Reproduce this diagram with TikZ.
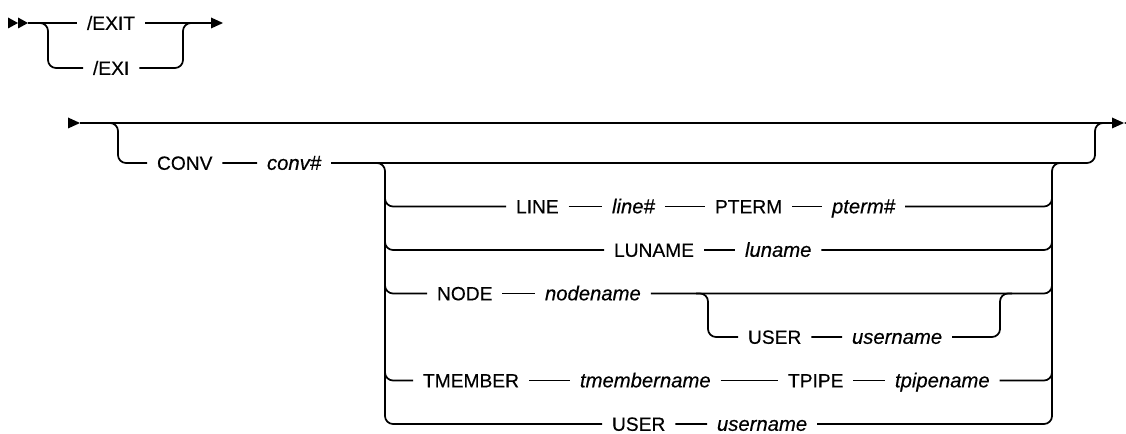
\documentclass[tikz,border=0pt]{standalone}
\usepackage{fontspec}
\setmainfont{Liberation Sans}
\newfontfamily\railfont{Liberation Sans}[FakeBold=0.35]
\usetikzlibrary{calc}

\tikzset{
  rail/.style={line width=1.3pt, rounded corners=6pt},
  kw/.style={inner sep=0pt, outer xsep=7.5pt, text height=10.2pt, text depth=0pt, anchor=west, font=\railfont\fontsize{14.4}{17}\selectfont},
  var/.style={kw, font=\railfont\fontsize{15.2}{18}\selectfont\itshape},
}

\begin{document}
\begin{tikzpicture}[x=0.75pt,y=-0.75pt]
        \useasboundingbox (0,0) rectangle (1126,434);
        \coordinate (a0) at (28,23);
        \coordinate (a1) at (212,23);
        \coordinate (aL) at (48,23);
        \coordinate (aR) at (183,23);
        \node[kw] (exit) at (77,23) {/EXIT};
        \node[kw] (exi) at (83,68) {/EXI};
        \fill (18,23) -- (8,17.5) -- (8,28.5) -- cycle;
        \fill (28,23) -- (18,17.5) -- (18,28.5) -- cycle;
        \fill (223,23) -- (211,17.5) -- (211,28.5) -- cycle;
        \draw[rail] (a0) -- (exit) -- (a1);
        \draw[rail] ([xshift=-7.5pt]aL) -| (aL |- exi) -- (exi) -| (aR) -- ([xshift=7.5pt]aR);

        \coordinate (m0) at (80,123);
        \coordinate (m1) at (1112,123);
        \coordinate (L0) at (118,123);
        \coordinate (R0) at (1095,123);
        \coordinate (L1) at (385,163);
        \coordinate (R1) at (1052,163);
        \coordinate (L2) at (708,293.5);
        \coordinate (R2) at (1000,293.5);
        \node[kw] (conv) at (147,163) {CONV};
        \node[var] (convv) at (257,163) {conv\#\hspace{10pt}};
        \node[kw] (kline) at (506,206.5) {LINE};
        \node[var] (linev) at (602,206.5) {line\#\hspace{10pt}};
        \node[kw] (pterm) at (705,206.5) {PTERM};
        \node[var] (ptermv) at (822,206.5) {pterm\#\hspace{10pt}};
        \node[kw] (luname) at (604,250) {LUNAME};
        \node[var] (lunamev) at (735,250) {luname\hspace{10pt}};
        \node[kw] (nodekw) at (427,293.5) {NODE};
        \node[var] (nodev) at (535,293.5) {nodename\hspace{10pt}};
        \node[kw] (user) at (738,337) {USER};
        \node[var] (userv) at (842,337) {username\hspace{10pt}};
        \node[kw] (tmember) at (413,380.5) {TMEMBER};
        \node[var] (tmemberv) at (570,380.5) {tmembername\hspace{10pt}};
        \node[kw] (tpipe) at (778,380.5) {TPIPE};
        \node[var] (tpipev) at (885,380.5) {tpipename\hspace{10pt}};
        \node[kw] (buser) at (602,424) {USER};
        \node[var] (buserv) at (707,424) {username\hspace{10pt}};

        \fill (80,123) -- (68,117.5) -- (68,128.5) -- cycle;
        \fill (1124,123) -- (1112,117.5) -- (1112,128.5) -- cycle;
        \fill (1124,123) -- (1136,117.5) -- (1136,128.5) -- cycle;
        \draw[rail] (m0) -- (m1);
        \draw[rail] ([xshift=-9pt]L0) -| (L0 |- conv) -- (conv) -- (convv) -| (R0) -- ([xshift=9pt]R0);

        % choices below CONV
        \draw[rail] ([xshift=-9pt]L1) -| (L1 |- buser) -- (buser) -- (buserv) -| (R1) -- ([xshift=9pt]R1);
        \foreach \row in {kline,luname,nodekw,tmember}
            \draw[rail] ($(L1 |- \row)+(0,12pt)$) |- (\row);
        \foreach \row in {ptermv,lunamev,nodev,tpipev}
            \draw[rail] (\row) -| ($(R1 |- \row)+(0,12pt)$);
        \draw[rail] (kline) -- (linev) -- (pterm) -- (ptermv);
        \draw[rail] (luname) -- (lunamev);
        \draw[rail] (nodekw) -- (nodev);
        \draw[rail] (tmember) -- (tmemberv) -- (tpipe) -- (tpipev);
        \draw[rail] ([xshift=-9pt]L2) -| (L2 |- user) -- (user) -- (userv) -| (R2) -- ([xshift=9pt]R2);
\end{tikzpicture}
\end{document}
